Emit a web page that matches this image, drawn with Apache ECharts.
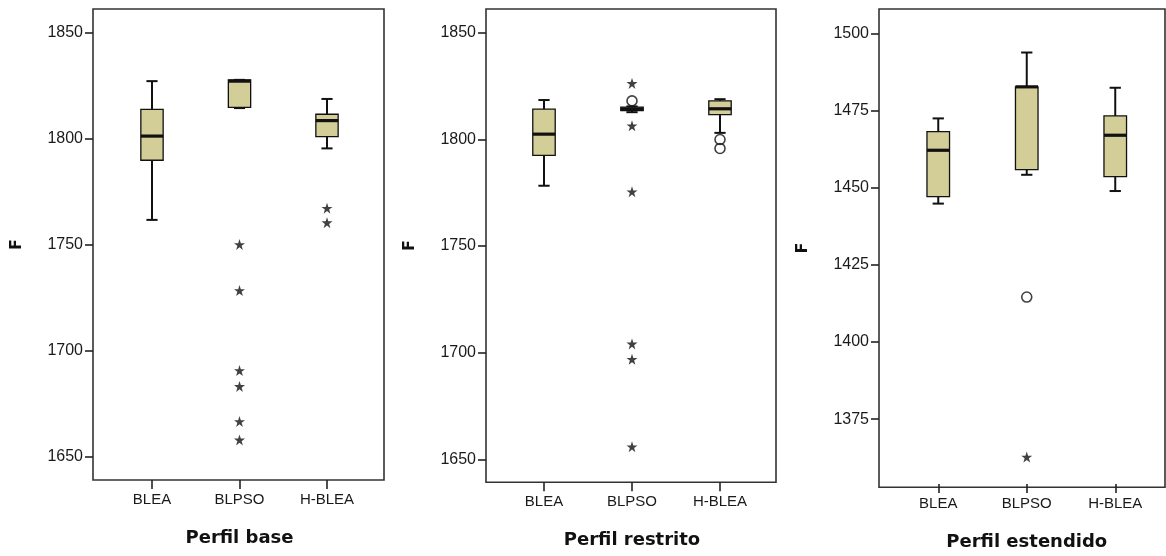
<!DOCTYPE html>
<html>
<head>
<meta charset="utf-8">
<script src="https://cdn.jsdelivr.net/npm/echarts@6/dist/echarts.min.js"></script>
<style>
  html, body { margin: 0; padding: 0; background: #ffffff; }
  #chart { width: 1166px; height: 556px; }
</style>
</head>
<body>
<div id="chart"></div>
<script>
// Algorithms compared in every profile
const categories = ['BLEA', 'BLPSO', 'H-BLEA'];

// Box summaries per algorithm: [lower whisker, Q1, median, Q3, upper whisker]
const baseBoxes = [
  [1761.8, 1789.9, 1801.3, 1813.9, 1827.2],
  [1814.5, 1814.8, 1827.2, 1827.8, 1827.8],
  [1795.5, 1801.0, 1808.6, 1811.6, 1818.8]
];
const restBoxes = [
  [1778.3, 1792.5, 1802.5, 1814.2, 1818.5],
  [1812.8, 1813.5, 1814.3, 1815.2, 1815.5],
  [1803.1, 1811.7, 1814.4, 1818.1, 1818.9]
];
const extBoxes = [
  [1444.4, 1446.7, 1461.8, 1467.9, 1472.2],
  [1453.8, 1455.5, 1482.5, 1482.5, 1493.7],
  [1448.5, 1453.2, 1466.7, 1473.0, 1482.2]
];

// Extreme values (stars) and outliers (circles)
const baseExtremes = [
  ['BLPSO', 1750.2], ['BLPSO', 1728.5], ['BLPSO', 1690.8], ['BLPSO', 1683.3],
  ['BLPSO', 1666.8], ['BLPSO', 1658.1], ['H-BLEA', 1767.3], ['H-BLEA', 1760.5]
];
const baseOutliers = [];
const restExtremes = [
  ['BLPSO', 1826.3], ['BLPSO', 1806.4], ['BLPSO', 1775.5],
  ['BLPSO', 1704.1], ['BLPSO', 1696.9], ['BLPSO', 1655.9]
];
const restOutliers = [['BLPSO', 1818.1], ['H-BLEA', 1800.0], ['H-BLEA', 1795.8]];
const extExtremes = [['BLPSO', 1361.7]];
const extOutliers = [['BLPSO', 1413.9]];

// Axis ticks and ranges
const yTicksHigh = [1650, 1700, 1750, 1800, 1850];
const yTicksLow = [1375, 1400, 1425, 1450, 1475, 1500];
const yRangeHigh = [1639.2, 1861.2];
const yRangeLow = [1352.9, 1507.9];

const panelTitles = ['Perfil base', 'Perfil restrito', 'Perfil estendido'];
const yAxisTitle = 'F';

const panels = [
  { boxes: baseBoxes, extremes: baseExtremes, outliers: baseOutliers, ticks: yTicksHigh, range: yRangeHigh,
    frame: { left: 93, width: 291, top: 9, height: 471 }, band: { left: 108.25, width: 262.5 } },
  { boxes: restBoxes, extremes: restExtremes, outliers: restOutliers, ticks: yTicksHigh, range: yRangeHigh,
    frame: { left: 486, width: 290, top: 9, height: 473.3 }, band: { left: 500, width: 264 } },
  { boxes: extBoxes, extremes: extExtremes, outliers: extOutliers, ticks: yTicksLow, range: yRangeLow,
    frame: { left: 879, width: 286, top: 9, height: 478.3 }, band: { left: 894, width: 265.5 } }
];

const STAR = 'path://M50,2 L61.5,37 L98,37 L68.5,58.5 L79.5,94 L50,72 L20.5,94 L31.5,58.5 L2,37 L38.5,37 Z';
const FILL = '#d3ce97';
const INK = '#111111';

function renderBox(params, api) {
  const idx = api.value(0);
  const lo = api.coord([idx, api.value(1)]);
  const q1 = api.coord([idx, api.value(2)]);
  const md = api.coord([idx, api.value(3)]);
  const q3 = api.coord([idx, api.value(4)]);
  const hi = api.coord([idx, api.value(5)]);
  const band = api.size([1, 0])[0];
  const bw = band * 0.255;
  const cw = bw / 2;
  const x = lo[0];
  const line = (x1, y1, x2, y2, w) => ({
    type: 'line',
    shape: { x1, y1, x2, y2 },
    style: { stroke: INK, lineWidth: w }
  });
  return {
    type: 'group',
    children: [
      line(x, hi[1], x, q3[1], 2),
      line(x, q1[1], x, lo[1], 2),
      line(x - cw / 2, hi[1], x + cw / 2, hi[1], 2),
      line(x - cw / 2, lo[1], x + cw / 2, lo[1], 2),
      {
        type: 'rect',
        shape: { x: x - bw / 2, y: q3[1], width: bw, height: Math.max(q1[1] - q3[1], 1) },
        style: { fill: FILL, stroke: INK, lineWidth: 1.3 }
      },
      line(x - bw / 2, md[1], x + bw / 2, md[1], 3.2)
    ]
  };
}

const grid = [], xAxis = [], yAxis = [], series = [];

panels.forEach((p, i) => {
  // Frame with the value axis
  grid.push({
    left: p.frame.left, width: p.frame.width, top: p.frame.top, height: p.frame.height,
    show: true, borderColor: '#333333', borderWidth: 1.6, backgroundColor: '#ffffff'
  });
  // Band area where categories sit
  grid.push({
    left: p.band.left, width: p.band.width, top: p.frame.top, height: p.frame.height
  });
  const fg = 2 * i, dg = 2 * i + 1;

  xAxis.push({ type: 'value', gridIndex: fg, min: 0, max: 1, show: false });
  xAxis.push({
    type: 'category', gridIndex: dg, data: categories, boundaryGap: true,
    axisLine: { show: false },
    axisTick: { show: true, alignWithLabel: true, length: 9, lineStyle: { color: '#222', width: 1.6 } },
    axisLabel: { color: '#1a1a1a', fontSize: 15, fontFamily: 'Liberation Sans, Arial, sans-serif', margin: 12 },
    splitLine: { show: false },
    name: panelTitles[i], nameLocation: 'middle', nameGap: 49,
    nameTextStyle: { color: '#111', fontSize: 18, fontWeight: 'bold', fontFamily: 'DejaVu Sans, sans-serif' }
  });

  yAxis.push({
    type: 'value', gridIndex: fg, min: p.range[0], max: p.range[1],
    axisLine: { show: false },
    axisTick: { show: true, length: 8, customValues: p.ticks, lineStyle: { color: '#222', width: 1.6 } },
    axisLabel: { color: '#1a1a1a', fontSize: 16, fontFamily: 'Liberation Sans, Arial, sans-serif', margin: 10,
      customValues: p.ticks, formatter: v => String(v) },
    splitLine: { show: false },
    name: yAxisTitle, nameLocation: 'middle', nameGap: 68,
    nameTextStyle: { color: '#111', fontSize: 16, fontWeight: 'bold', fontFamily: 'DejaVu Sans, sans-serif' }
  });
  yAxis.push({ type: 'value', gridIndex: dg, min: p.range[0], max: p.range[1], show: false });

  series.push({
    type: 'custom', xAxisIndex: dg, yAxisIndex: dg,
    renderItem: renderBox,
    encode: { x: 0, y: [1, 2, 3, 4, 5] },
    data: p.boxes.map((b, k) => [k].concat(b)),
    silent: true, z: 2
  });
  series.push({
    type: 'scatter', xAxisIndex: dg, yAxisIndex: dg,
    data: p.extremes, symbol: STAR, symbolSize: 11,
    itemStyle: { color: INK }, silent: true, z: 3
  });
  series.push({
    type: 'scatter', xAxisIndex: dg, yAxisIndex: dg,
    data: p.outliers, symbol: 'circle', symbolSize: 10,
    itemStyle: { color: 'rgba(255,255,255,0)', borderColor: INK, borderWidth: 1.6 }, silent: true, z: 3
  });
});

const chart = echarts.init(document.getElementById('chart'), null, { renderer: 'canvas' });
chart.setOption({
  backgroundColor: '#ffffff',
  animation: false,
  grid, xAxis, yAxis, series
});
</script>
</body>
</html>
